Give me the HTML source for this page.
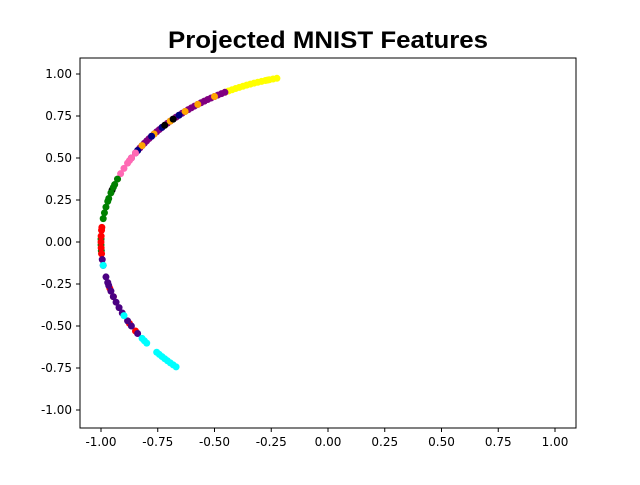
<!DOCTYPE html>
<html><head><meta charset="utf-8"><style>
body{margin:0;background:#fff;font-family:"Liberation Sans",sans-serif}
svg text{font-family:"DejaVu Sans","Liberation Sans",sans-serif}
</style></head><body>
<svg id="chart" width="640" height="480">
<rect width="640" height="480" fill="#fff"/>
<text x="328" y="48" text-anchor="middle" font-size="24" font-weight="bold" textLength="320" lengthAdjust="spacingAndGlyphs" style="font-family:'Liberation Sans',sans-serif">Projected MNIST Features</text>
<g id="marks"></g>
<rect x="80" y="58" width="496" height="370" fill="none" stroke="#000" stroke-width="1"/>
<g id="axes"></g>
</svg>
<script>
const xTicks=[-1,-0.75,-0.5,-0.25,0,0.25,0.5,0.75,1];
const yTicks=[-1,-0.75,-0.5,-0.25,0,0.25,0.5,0.75,1];
const yellowAngles=[103,104,105,105.5,106,107,108,109,110,111,112,113,114,115,116,117];
const purpleAngles=[117,118,119,120,121,122,123,124,125,126,127,128,129,130,131,132,133,134,135,136,137,138,139,140,141,142,143,144,145,146,147,148,150];
const orangeAngles=[120,125,129,134,140,145];
const navyAngles=[131,137,141,147];
const blackAngles=[133,136,162];
const pinkAngles=[148,150,151,152,154,156,158];
const greenAngles=[158,160,161,163,165,166,168,170,172,179,181,183];
const redAngles=[175,176,178,180,182,184,196,199,209,212];
const indigoAngles=[186,188,192,194,195,197,199,201,203,205,208,210,213];
const cyanAngles=[188,206,215,216,217,221,222,223,224,225,226,227,228];
const series=[["yellow",yellowAngles,"#ffff00"],["purple",purpleAngles,"#800080"],["orange",orangeAngles,"#ffa500"],["navy",navyAngles,"#000080"],["black",blackAngles,"#000000"],["pink",pinkAngles,"#ff69b4"],["green",greenAngles,"#008000"],["red",redAngles,"#ff0000"],["indigo",indigoAngles,"#4b0082"],["cyan",cyanAngles,"#00ffff"]];
const NS="http://www.w3.org/2000/svg";
const sx=v=>328+v*227, sy=v=>242-v*168;
const fmt=v=>(v<0?"-":"")+Math.abs(v).toFixed(2);
const marks=document.getElementById('marks'), axes=document.getElementById('axes');
series.forEach(([name,arr,col])=>{arr.forEach(a=>{const r=a*Math.PI/180;const c=document.createElementNS(NS,'circle');
c.setAttribute('cx',sx(Math.cos(r)));c.setAttribute('cy',sy(Math.sin(r)));c.setAttribute('r',3.5);c.setAttribute('fill',col);


marks.appendChild(c);});});
xTicks.forEach(v=>{const x=sx(v);const l=document.createElementNS(NS,'line');l.setAttribute('x1',x);l.setAttribute('x2',x);l.setAttribute('y1',428);l.setAttribute('y2',432);l.setAttribute('stroke','#000');


axes.appendChild(l);const t=document.createElementNS(NS,'text');t.setAttribute('x',x);t.setAttribute('y',446);t.setAttribute('text-anchor','middle');t.setAttribute('font-size','12');t.textContent=fmt(v);


axes.appendChild(t);});
yTicks.forEach(v=>{const y=sy(v);const l=document.createElementNS(NS,'line');l.setAttribute('x1',76);l.setAttribute('x2',80);l.setAttribute('y1',y);l.setAttribute('y2',y);l.setAttribute('stroke','#000');


axes.appendChild(l);const t=document.createElementNS(NS,'text');t.setAttribute('x',72);t.setAttribute('y',y+4);t.setAttribute('text-anchor','end');t.setAttribute('font-size','12');t.textContent=fmt(v);


axes.appendChild(t);});
</script>
</body></html>
